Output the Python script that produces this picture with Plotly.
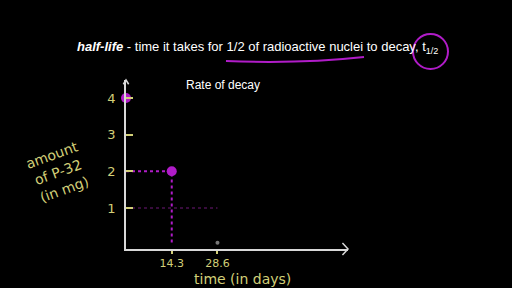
import plotly.graph_objects as go

# data
times = [0, 14.3]
amounts = [4, 2]
half_lines_x = [0, 14.3, 14.3]
half_lines_y = [2, 2, 0]
quarter_x = [0, 28.6]
quarter_y = [1, 1]
xtick_vals = [14.3, 28.6]
xtick_text = ["14.3", "28.6"]
ytick_vals = [1, 2, 3, 4]
ytick_text = ["1", "2", "3", "4"]

MAG = "#b01cc8"
YEL = "#d2cf78"
AX = "#d8d8d8"

fig = go.Figure()
fig.add_trace(go.Scatter(x=half_lines_x, y=half_lines_y, mode="lines",
                         line=dict(color=MAG, width=2, dash="dot"), hoverinfo="skip"))
fig.add_trace(go.Scatter(x=quarter_x, y=quarter_y, mode="lines",
                         line=dict(color="#4a1050", width=1.5, dash="dot"), hoverinfo="skip"))
fig.add_trace(go.Scatter(x=[28.6], y=[0.05], mode="markers",
                         marker=dict(color="#777777", size=4), hoverinfo="skip"))
fig.add_trace(go.Scatter(x=times, y=amounts, mode="markers",
                         marker=dict(color=MAG, size=10), hoverinfo="skip", cliponaxis=False))

fig.update_layout(
    width=512, height=288, showlegend=False,
    paper_bgcolor="black", plot_bgcolor="black",
    margin=dict(l=126, r=164, t=80, b=39),
    xaxis=dict(range=[0, 69.4], showgrid=False, zeroline=False, showline=True,
               linecolor=AX, linewidth=1.5, tickvals=xtick_vals, ticktext=xtick_text,
               ticks="outside", ticklen=3, tickwidth=2, tickcolor=YEL,
               ticklabelstandoff=0,
               tickfont=dict(color=YEL, size=11, family="DejaVu Sans")),
    yaxis=dict(range=[-0.12, 4.49], showgrid=False, zeroline=False, showline=True,
               linecolor=AX, linewidth=1.5, tickvals=ytick_vals, ticktext=ytick_text,
               ticks="inside", ticklen=7, tickwidth=2, tickcolor=YEL,
               ticklabelstandoff=6,
               tickfont=dict(color=YEL, size=13, family="DejaVu Sans")),
    font=dict(family="Liberation Sans"),
)

def px(x):
    return (x - 126) / 222

def py(y):
    return (249 - y) / 169

# arrows
fig.add_shape(type="path", xref="paper", yref="paper",
              path="M -0.012 0.975 L 0 1.0 L 0.012 0.975", line=dict(color=AX, width=1.5))
fig.add_shape(type="path", xref="paper", yref="paper",
              path="M 0.975 0.035 L 1.0 0 L 0.975 -0.035", line=dict(color=AX, width=1.5))

# header
fig.add_annotation(xref="paper", yref="paper", x=px(257), y=py(48),
                   xanchor="center", yanchor="middle",
                   text="<b><i>half-life</i></b> - time it takes for 1/2 of radioactive nuclei to decay, t<sub>1/2</sub>",
                   showarrow=False, font=dict(color="white", size=13, family="Liberation Sans"))
fig.add_annotation(xref="paper", yref="paper", x=px(223), y=py(85),
                   xanchor="center", yanchor="middle",
                   text="Rate of decay", showarrow=False,
                   font=dict(color="white", size=12, family="Liberation Sans"))
# underline and circle
fig.add_shape(type="path", xref="paper", yref="paper",
              path="M {0} {1} Q {2} {3} {4} {5}".format(
                  px(226), py(61), px(300), py(64), px(364), py(57)),
              line=dict(color=MAG, width=2))
fig.add_shape(type="circle", xref="paper", yref="paper",
              x0=px(413), x1=px(448), y0=py(69), y1=py(34),
              line=dict(color=MAG, width=2))

# handwritten labels
fig.add_annotation(xref="paper", yref="paper", x=px(58), y=py(172),
                   xanchor="center", yanchor="middle",
                   text="amount<br>of P-32<br>(in mg)", showarrow=False, textangle=-20,
                   font=dict(color=YEL, size=14, family="DejaVu Sans"))
fig.add_annotation(xref="paper", yref="paper", x=px(242), y=py(279),
                   xanchor="center", yanchor="middle",
                   text="time (in days)", showarrow=False,
                   font=dict(color=YEL, size=14, family="DejaVu Sans"))

fig.write_html("out.html")
